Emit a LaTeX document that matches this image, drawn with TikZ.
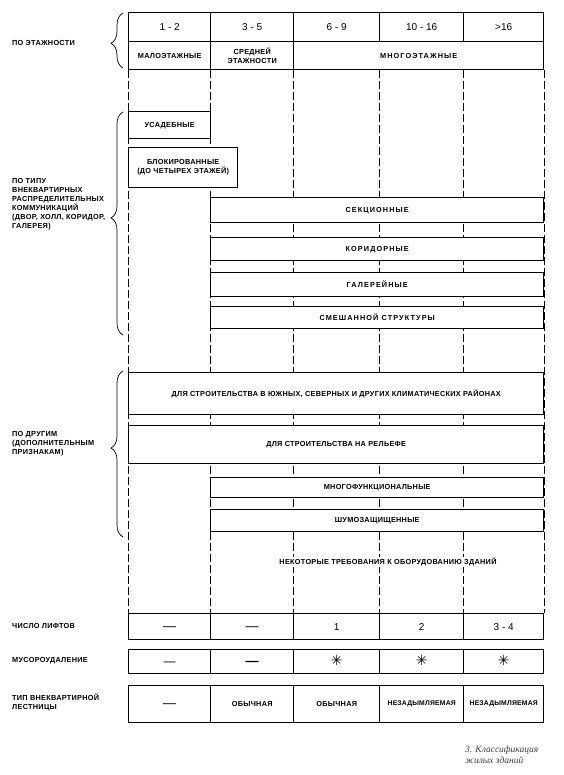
\documentclass[tikz,border=0pt]{standalone}
\usepackage{fontspec}
\setmainfont{Liberation Sans}
\newfontfamily\mysymfont{DejaVu Sans}
\newfontfamily\mycapfont{Liberation Serif}
\usetikzlibrary{decorations.pathreplacing,backgrounds}
\newcommand\mylbl{\fontsize{7.3}{9}\selectfont\bfseries\addfontfeature{LetterSpace=4}}
\newcommand\mynum{\fontsize{10}{11}\selectfont}
\newcommand\mysp{\addfontfeature{LetterSpace=15}}
\begin{document}
\begin{tikzpicture}[x=1pt,y=-1pt,
  cell/.style={draw, line width=1.4pt, fill=white, inner sep=0pt, align=center, font=\mylbl, anchor=north west},
  numcell/.style={cell, font=\mynum, text height=7.5pt, text depth=0pt},
  lbl/.style={anchor=west, align=left, font=\mylbl, inner sep=0pt},
  dashline/.style={line width=0.9pt, dash pattern=on 8pt off 3pt},
  bracestyle/.style={line width=0.7pt, decorate, decoration={brace, amplitude=12pt, aspect=#1}}
]
\useasboundingbox (0,0) rectangle (563,775);

% top table
\node[numcell, minimum width=82pt, minimum height=29pt] (t1) at (128,12) {1 - 2};
\node[numcell, minimum width=83pt, minimum height=29pt] (t2) at (210,12) {3 - 5};
\node[numcell, minimum width=86pt, minimum height=29pt] (t3) at (293,12) {6 - 9};
\node[numcell, minimum width=84pt, minimum height=29pt] (t4) at (379,12) {10 - 16};
\node[numcell, minimum width=80pt, minimum height=29pt] (t5) at (463,12) {>16};
\node[cell, minimum width=82pt, minimum height=28pt] (m1) at (128,41) {МАЛОЭТАЖНЫЕ};
\node[cell, minimum width=83pt, minimum height=28pt] (m2) at (210,41) {СРЕДНЕЙ\\ЭТАЖНОСТИ};
\node[cell, minimum width=250pt, minimum height=28pt] (m3) at (293,41) {\mysp МНОГОЭТАЖНЫЕ};

% boxes
\node[cell, minimum width=82pt, minimum height=27pt] (usad) at (128,111) {УСАДЕБНЫЕ};
\node[cell, minimum width=109pt, minimum height=40pt] (blok) at (128,147) {БЛОКИРОВАННЫЕ\\(ДО ЧЕТЫРЕХ ЭТАЖЕЙ)};
\node[cell, minimum width=333pt, minimum height=25pt] (sek) at (210,197) {\mysp СЕКЦИОННЫЕ};
\node[cell, minimum width=333pt, minimum height=23pt] (kor) at (210,237) {\mysp КОРИДОРНЫЕ};
\node[cell, minimum width=333pt, minimum height=24pt] (gal) at (210,272) {\mysp ГАЛЕРЕЙНЫЕ};
\node[cell, minimum width=333pt, minimum height=22pt] (smesh) at (210,306) {\mysp СМЕШАННОЙ СТРУКТУРЫ};
\node[cell, minimum width=415pt, minimum height=42pt] (klim) at (128,372) {ДЛЯ СТРОИТЕЛЬСТВА В ЮЖНЫХ, СЕВЕРНЫХ И ДРУГИХ КЛИМАТИЧЕСКИХ РАЙОНАХ};
\node[cell, minimum width=415pt, minimum height=38pt] (rel) at (128,425) {ДЛЯ СТРОИТЕЛЬСТВА НА РЕЛЬЕФЕ};
\node[cell, minimum width=333pt, minimum height=20pt] (mnf) at (210,477) {МНОГОФУНКЦИОНАЛЬНЫЕ};
\node[cell, minimum width=333pt, minimum height=22pt] (shum) at (210,509) {ШУМОЗАЩИЩЕННЫЕ};
\node[font=\mylbl, inner sep=1pt, fill=white] (req) at (388,562) {НЕКОТОРЫЕ ТРЕБОВАНИЯ К ОБОРУДОВАНИЮ ЗДАНИЙ};

% lifts
\node[numcell, minimum width=82pt, minimum height=26pt] (l1) at (128,613) {\fontsize{13}{13}\selectfont —};
\node[numcell, minimum width=83pt, minimum height=26pt] (l2) at (210,613) {\fontsize{13}{13}\selectfont —};
\node[numcell, minimum width=86pt, minimum height=26pt] (l3) at (293,613) {1};
\node[numcell, minimum width=84pt, minimum height=26pt] (l4) at (379,613) {2};
\node[numcell, minimum width=80pt, minimum height=26pt] (l5) at (463,613) {3 - 4};
% garbage
\node[numcell, minimum width=82pt, minimum height=24pt] (g1) at (128,649) {\fontsize{12}{12}\selectfont —};
\node[numcell, minimum width=83pt, minimum height=24pt] (g2) at (210,649) {\fontsize{13}{13}\selectfont\bfseries —};
\node[numcell, minimum width=86pt, minimum height=24pt] (g3) at (293,649) {\mysymfont\fontsize{14}{14}\selectfont ✳};
\node[numcell, minimum width=84pt, minimum height=24pt] (g4) at (379,649) {\mysymfont\fontsize{14}{14}\selectfont ✳};
\node[numcell, minimum width=80pt, minimum height=24pt] (g5) at (463,649) {\mysymfont\fontsize{14}{14}\selectfont ✳};
% stairs
\node[numcell, minimum width=82pt, minimum height=37pt] (s1) at (128,685) {\fontsize{13}{13}\selectfont —};
\node[cell, minimum width=83pt, minimum height=37pt] (s2) at (210,685) {ОБЫЧНАЯ};
\node[cell, minimum width=86pt, minimum height=37pt] (s3) at (293,685) {ОБЫЧНАЯ};
\node[cell, minimum width=84pt, minimum height=37pt, font=\fontsize{6.8}{8}\selectfont\bfseries\addfontfeature{LetterSpace=3}] (s4) at (379,685) {НЕЗАДЫМЛЯЕМАЯ};
\node[cell, minimum width=80pt, minimum height=37pt, font=\fontsize{6.8}{8}\selectfont\bfseries\addfontfeature{LetterSpace=3}] (s5) at (463,685) {НЕЗАДЫМЛЯЕМАЯ};

% labels
\node[lbl] (e1) at (12,43) {ПО ЭТАЖНОСТИ};
\node[lbl] (e2) at (12,204) {ПО ТИПУ\\ВНЕКВАРТИРНЫХ\\РАСПРЕДЕЛИТЕЛЬНЫХ\\КОММУНИКАЦИЙ\\(ДВОР, ХОЛЛ, КОРИДОР,\\ГАЛЕРЕЯ)};
\node[lbl] (e3) at (12,444) {ПО ДРУГИМ\\(ДОПОЛНИТЕЛЬНЫМ\\ПРИЗНАКАМ)};
\node[lbl] (e4) at (12,626) {ЧИСЛО ЛИФТОВ};
\node[lbl] (e5) at (12,661) {МУСОРОУДАЛЕНИЕ};
\node[lbl] (e6) at (12,702) {ТИП ВНЕКВАРТИРНОЙ\\ЛЕСТНИЦЫ};

% braces
\coordinate (b1s) at (123,68);
\coordinate (b1e) at (123,13);
\coordinate (b2s) at (123,335);
\coordinate (b2e) at (123,112);
\coordinate (b3s) at (123,537);
\coordinate (b3e) at (123,371);
\draw[bracestyle=0.45] (b1s) -- (b1e);
\draw[bracestyle=0.525] (b2s) -- (b2e);
\draw[bracestyle=0.536] (b3s) -- (b3e);

% caption
\node[anchor=west, align=left, inner sep=0pt, text=black!75, font=\mycapfont\itshape\fontsize{9.5}{10.5}\selectfont] (cap) at (465,755) {3. Классификация\\жилых зданий};

% dashed column lines
\begin{pgfonlayer}{background}
\draw[dashline] (m1.south west) -- (l1.north west);
\draw[dashline] (m2.south west) -- (l2.north west);
\draw[dashline] (m3.south west) -- (l3.north west);
\draw[dashline] (t4.south west |- m3.south) -- (l4.north west);
\draw[dashline] (t5.south west |- m3.south) -- (l5.north west);
\draw[dashline] (m3.south east) -- (l5.north east);
\end{pgfonlayer}
\end{tikzpicture}
\end{document}
